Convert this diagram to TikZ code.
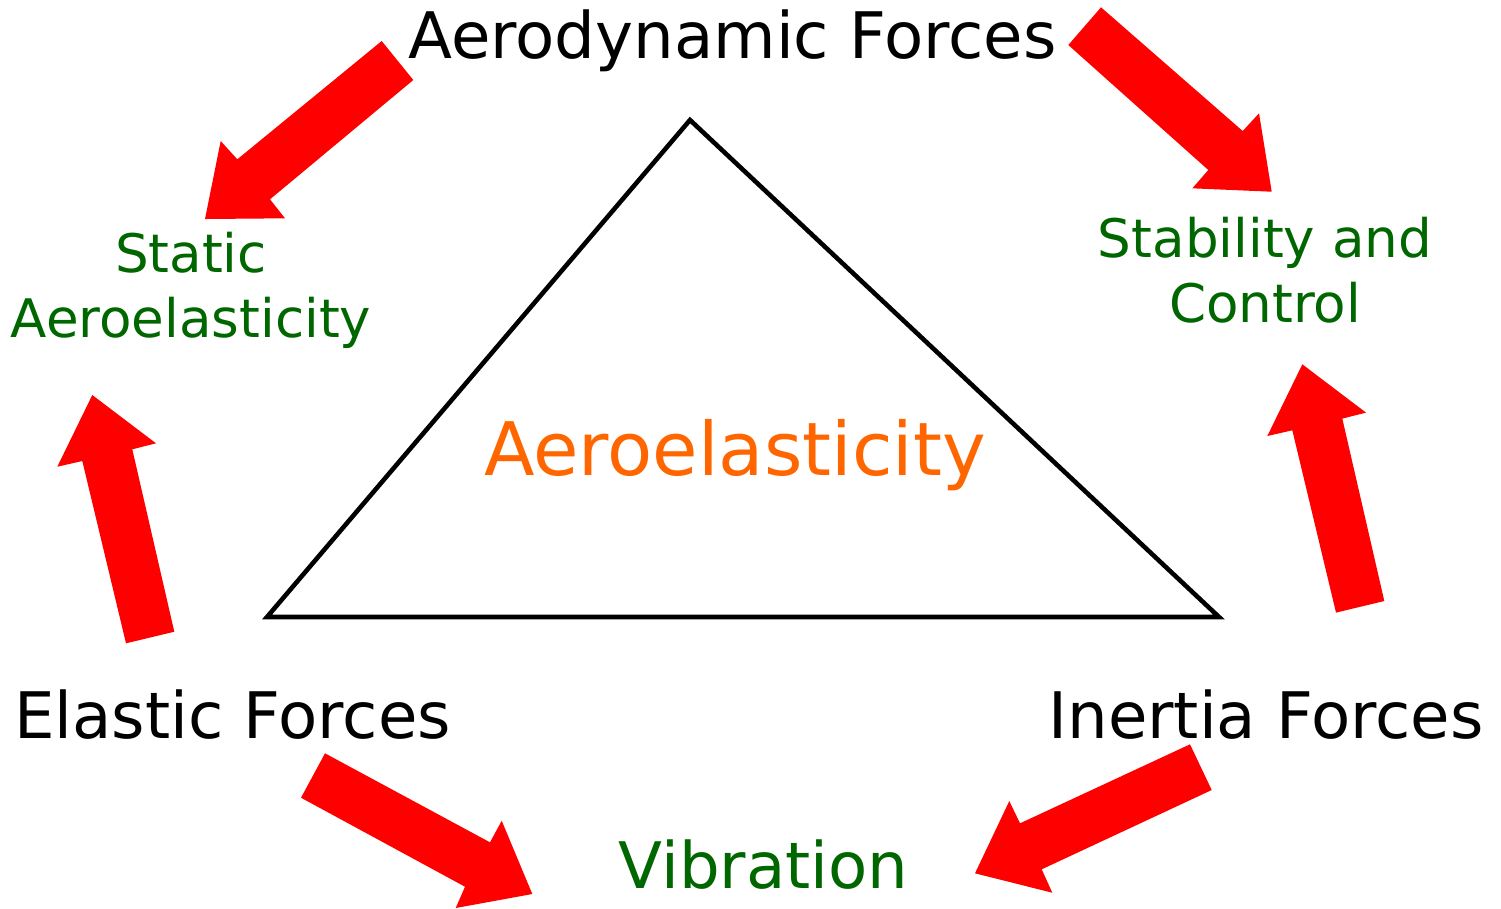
\documentclass[tikz,border=0pt]{standalone}
\usepackage{fontspec}
\setmainfont{DejaVu Sans}
\definecolor{arrowred}{RGB}{255,0,0}
\definecolor{labelgreen}{RGB}{0,102,0}
\definecolor{titleorange}{RGB}{255,102,0}
\tikzset{
  bigarrow/.style={fill=arrowred, draw=none},
  forcelabel/.style={anchor=base, inner sep=0pt, font=\fontsize{18.25}{22}\selectfont, text=black},
  effectlabel/.style={anchor=center, inner sep=0pt, align=center, font=\fontsize{15.1}{18.5}\selectfont, text=labelgreen},
}
\begin{document}
\begin{tikzpicture}[x=0.01cm, y=-0.01cm]
\useasboundingbox (0,0) rectangle (1501,908);
% triangle
\draw[line width=1.3pt, line join=miter] (690,120) -- (1219,617) -- (267,617) -- cycle;
% labels
\node[forcelabel] (aero) at (732.5,58) {Aerodynamic Forces};
\node[forcelabel] (elastic) at (232.5,738) {Elastic Forces};
\node[forcelabel] (inertia) at (1266,738) {Inertia Forces};
\node[forcelabel, text=labelgreen] (vib) at (763.5,888) {Vibration};
\node[effectlabel] (static) at (191,290) {Static\\Aeroelasticity};
\node[effectlabel] (stab) at (1265,270) {Stability and\\Control};
\node[anchor=base, inner sep=0pt, font=\fontsize{21}{25}\selectfont, text=titleorange] (center) at (735,475) {Aeroelasticity};
% arrows
\fill[bigarrow] (381.7,41) -- (413.3,80) -- (270,199.3) -- (285,218.3) -- (205,219) -- (220.7,141) -- (237.3,159.3) -- cycle;
\fill[bigarrow] (1101,7.3) -- (1068.3,45) -- (1208.3,170) -- (1192.3,188.3) -- (1271.7,191.7) -- (1259,113.3) -- (1242.7,131) -- cycle;
\fill[bigarrow] (174.3,631.7) -- (126,643.3) -- (82.3,461) -- (57.3,466.7) -- (92.3,395) -- (156,443.3) -- (132.3,449.3) -- cycle;
\fill[bigarrow] (1384.3,601) -- (1336,612.6) -- (1292.3,430.3) -- (1267.3,436) -- (1302.3,364.3) -- (1366,412.6) -- (1342.3,418.6) -- cycle;
\fill[bigarrow] (325,753.3) -- (301,797.7) -- (465,886.7) -- (455.7,908) -- (532.3,894) -- (501.7,820.7) -- (490,842.3) -- cycle;
\fill[bigarrow] (1190,744.3) -- (1211.7,790) -- (1041.7,869.3) -- (1052.3,892.7) -- (975,873.3) -- (1009.3,801) -- (1020,823.3) -- cycle;
\end{tikzpicture}
\end{document}
